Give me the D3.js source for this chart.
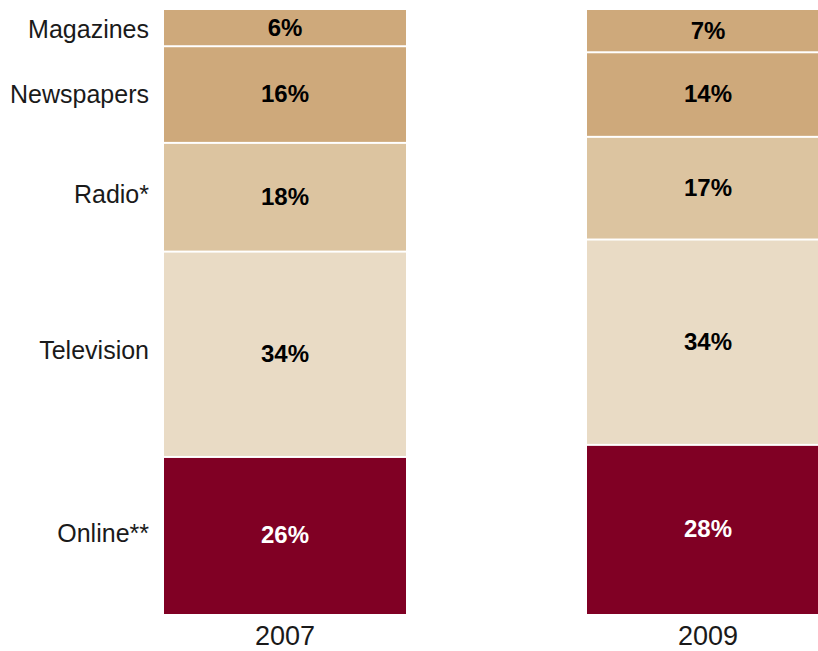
<!DOCTYPE html>
<html>
<head>
<meta charset="utf-8">
<script src="https://cdn.jsdelivr.net/npm/d3@7"></script>
<style>
  html, body { margin: 0; padding: 0; background: #fff; }
  svg { display: block; }
  text { font-family: "Liberation Sans", Arial, sans-serif; }
</style>
</head>
<body>
<svg id="chart" width="818" height="651"></svg>
<script>
// Media mix share by year, stacked bottom-to-top
const years = ["2007", "2009"];
const media = ["Online**", "Television", "Radio*", "Newspapers", "Magazines"];
const share2007 = [26, 34, 18, 16, 6];
const share2009 = [28, 34, 17, 14, 7];
const colors = ["#800024", "#e9dbc5", "#dcc4a0", "#cea97b", "#cea97b"];

const seriesByYear = { "2007": share2007, "2009": share2009 };

const svg = d3.select("#chart");

const x = d3.scaleBand()
  .domain(years)
  .range([164, 829])
  .paddingInner(181 / 423)
  .paddingOuter(0);

const y = d3.scaleLinear().domain([0, 100]).range([614, 10]);

// build stacked segments
const segments = [];
years.forEach(yr => {
  let cum = 0;
  seriesByYear[yr].forEach((v, i) => {
    segments.push({ year: yr, media: media[i], value: v, y0: cum, y1: cum + v, color: colors[i], idx: i });
    cum += v;
  });
});

const gap = 2;
svg.append("g").selectAll("rect")
  .data(segments)
  .join("rect")
  .attr("x", d => x(d.year))
  .attr("width", x.bandwidth())
  .attr("y", d => y(d.y1) + (d.idx === media.length - 1 ? 0 : gap / 2))
  .attr("height", d => {
    const top = y(d.y1) + (d.idx === media.length - 1 ? 0 : gap / 2);
    const bottom = y(d.y0) - (d.idx === 0 ? 0 : gap / 2);
    return bottom - top;
  })
  .attr("fill", d => d.color);

// value labels inside segments
svg.append("g").selectAll("text")
  .data(segments)
  .join("text")
  .attr("x", d => x(d.year) + x.bandwidth() / 2)
  .attr("y", d => (y(d.y0) + y(d.y1)) / 2)
  .attr("dy", "0.33em")
  .attr("text-anchor", "middle")
  .attr("font-size", 24)
  .attr("font-weight", "bold")
  .attr("fill", d => d.idx === 0 ? "#ffffff" : "#000000")
  .text(d => d.value + "%");

// category labels at left, placed between the two bars' segment centres
const centre = (m, yr) => {
  const s = segments.find(d => d.media === m && d.year === yr);
  return (y(s.y0) + y(s.y1)) / 2;
};
svg.append("g").selectAll("text")
  .data(media)
  .join("text")
  .attr("x", 149)
  .attr("y", m => (2 * centre(m, years[0]) + centre(m, years[1])) / 3)
  .attr("dy", "0.35em")
  .attr("text-anchor", "end")
  .attr("font-size", 25)
  .attr("fill", "#1a1a1a")
  .text(m => m);

// year axis
const xAxis = d3.axisBottom(x).tickSize(0).tickPadding(0);
const ax = svg.append("g")
  .attr("transform", "translate(0, 626)")
  .call(xAxis);
ax.select(".domain").remove();
ax.selectAll("text")
  .attr("font-size", 27)
  .attr("fill", "#1a1a1a")
  .attr("dy", "0.71em")
  .style("font-family", "'Liberation Sans', Arial, sans-serif");
</script>
</body>
</html>
